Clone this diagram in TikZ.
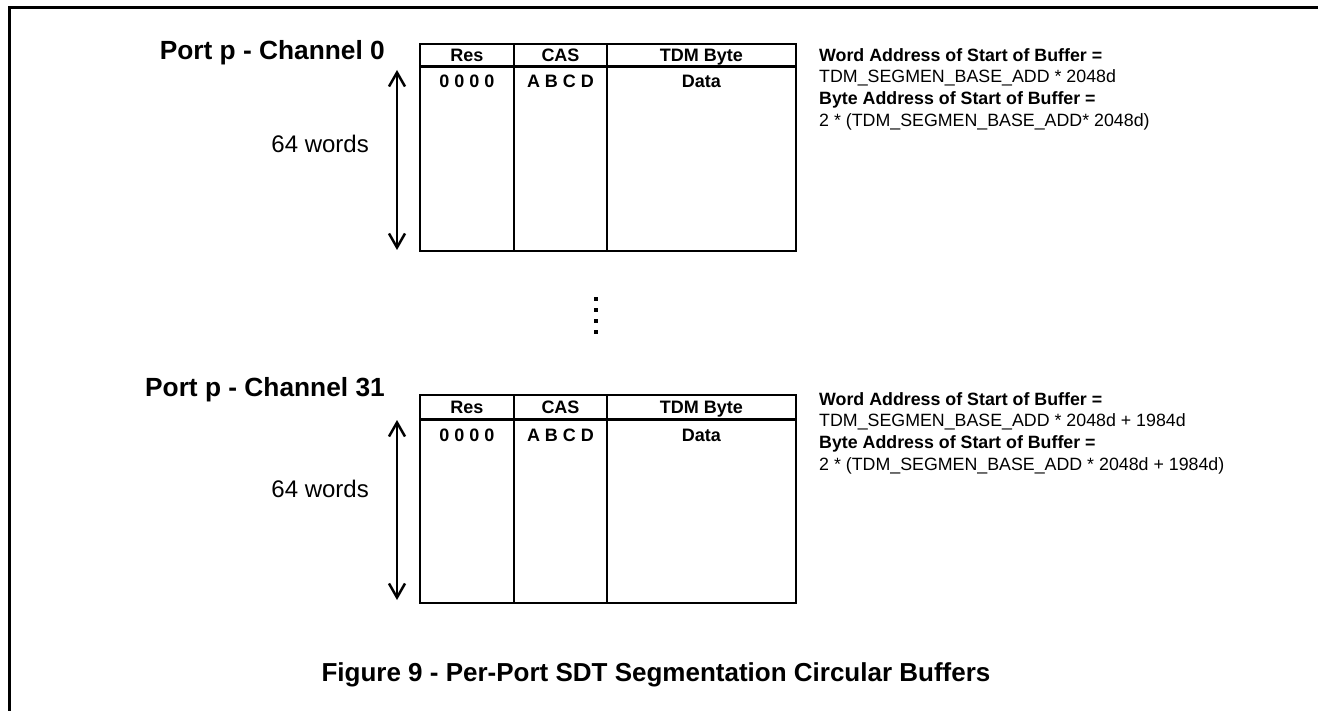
\documentclass[tikz,border=0pt]{standalone}
\usepackage{fontspec}
\setmainfont{Liberation Sans}
\usetikzlibrary{arrows.meta}
\begin{document}
\begin{tikzpicture}[x=1pt,y=-1pt,
  frame/.style={line width=3pt},
  cell/.style={draw,line width=2pt,inner sep=0pt,text height=12.5pt,text depth=0pt,font=\fontsize{18}{21}\selectfont\bfseries},
  rowtxt/.style={anchor=base,inner sep=0pt,font=\fontsize{18}{21}\selectfont\bfseries},
  title/.style={anchor=base east,inner sep=0pt,font=\fontsize{26.3}{31}\selectfont\bfseries},
  words/.style={anchor=base east,inner sep=0pt,font=\fontsize{24}{28}\selectfont},
  note/.style={anchor=north west,inner sep=0pt,align=left,font=\fontsize{17.8}{21.7}\selectfont},
  span/.style={{Straight Barb[length=14pt,width=16pt]}-{Straight Barb[length=14pt,width=16pt]},line width=2.5pt},
  vdot/.style={rectangle,fill,inner sep=0pt,minimum size=4pt}]
\useasboundingbox (0,0) rectangle (1318,711);
% frame
\coordinate (fl) at (9,711);
\coordinate (fr) at (1318,7.5);
\draw[frame] (fl) |- (fr);
% channel 0 buffer
\node[title] (ch0) at (385,60) {Port p - Channel 0};
\node[words] (w0) at (369,153) {64 words};
\begin{scope}
\node[cell,minimum width=94pt,minimum height=22pt] (hres0) at (467,55) {Res};
\node[cell,minimum width=93pt,minimum height=22pt] (hcas0) at (560.5,55) {CAS};
\node[cell,minimum width=188.7pt,minimum height=22pt] (htdm0) at (701.35,55) {TDM Byte};
\node[cell,minimum width=94pt,minimum height=184pt,anchor=north] (res0) at (467,66) {};
\node[cell,minimum width=93pt,minimum height=184pt,anchor=north] (cas0) at (560.5,66) {};
\node[cell,minimum width=188.7pt,minimum height=184pt,anchor=north] (tdm0) at (701.35,66) {};
\node[rowtxt] (z0) at (467,88) {0 0 0 0};
\node[rowtxt] (abcd0) at (560.5,88) {A B C D};
\node[rowtxt] (dat0) at (701.35,88) {Data};
\coordinate (t0) at (397,70);
\coordinate (b0) at (397,250);
\draw[span] (t0) -- (b0);
\end{scope}
\node[note] (n0) at (819,48) {\textbf{Word Address of Start of Buffer =}\\TDM\_SEGMEN\_BASE\_ADD * 2048d\\\textbf{Byte Address of Start of Buffer =}\\2 * (TDM\_SEGMEN\_BASE\_ADD* 2048d)};
% dots between
\node[vdot] (d1) at (596,299) {};
\node[vdot] (d2) at (596,310) {};
\node[vdot] (d3) at (596,321) {};
\node[vdot] (d4) at (596,332) {};
% channel 31 buffer
\node[title] (ch31) at (385,397) {Port p - Channel 31};
\node[words] (w31) at (369,497) {64 words};
\begin{scope}[yshift=-351pt]
\node[cell,minimum width=94pt,minimum height=24pt] (hres31) at (467,56) {Res};
\node[cell,minimum width=93pt,minimum height=24pt] (hcas31) at (560.5,56) {CAS};
\node[cell,minimum width=188.7pt,minimum height=24pt] (htdm31) at (701.35,56) {TDM Byte};
\node[cell,minimum width=94pt,minimum height=183pt,anchor=north] (res31) at (467,68) {};
\node[cell,minimum width=93pt,minimum height=183pt,anchor=north] (cas31) at (560.5,68) {};
\node[cell,minimum width=188.7pt,minimum height=183pt,anchor=north] (tdm31) at (701.35,68) {};
\node[rowtxt] (z31) at (467,90) {0 0 0 0};
\node[rowtxt] (abcd31) at (560.5,90) {A B C D};
\node[rowtxt] (dat31) at (701.35,90) {Data};
\coordinate (t31) at (397,69);
\coordinate (b31) at (397,249);
\draw[span] (t31) -- (b31);
\end{scope}
\node[note] (n31) at (819,392) {\textbf{Word Address of Start of Buffer =}\\TDM\_SEGMEN\_BASE\_ADD * 2048d + 1984d\\\textbf{Byte Address of Start of Buffer =}\\2 * (TDM\_SEGMEN\_BASE\_ADD * 2048d + 1984d)};
% caption
\node[anchor=base,inner sep=0pt,font=\fontsize{26}{31}\selectfont\bfseries] (cap) at (656,681) {Figure 9 - Per-Port SDT Segmentation Circular Buffers};
\end{tikzpicture}
\end{document}
